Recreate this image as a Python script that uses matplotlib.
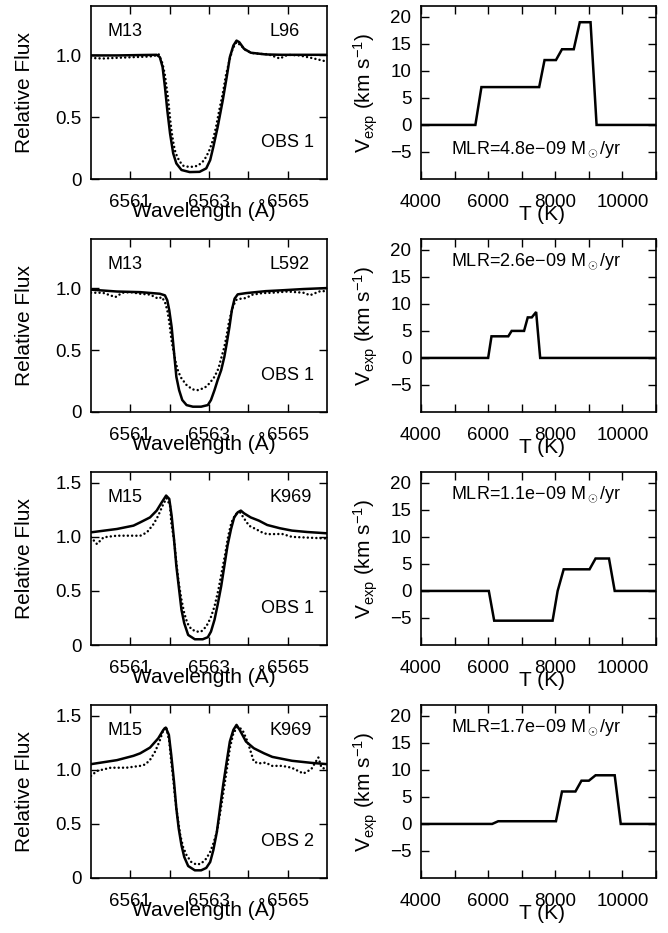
import matplotlib
matplotlib.use("Agg")
import matplotlib.pyplot as plt
from matplotlib.ticker import MultipleLocator, FixedLocator, FixedFormatter

plt.rcParams['font.family'] = ['Liberation Sans', 'DejaVu Sans']
plt.rcParams['mathtext.fontset'] = 'custom'
plt.rcParams['mathtext.rm'] = 'Liberation Sans'
plt.rcParams['mathtext.it'] = 'Liberation Sans:italic'
plt.rcParams['mathtext.bf'] = 'Liberation Sans:bold'
plt.rcParams['mathtext.sf'] = 'Liberation Sans'

# ---------------- spectra: model (solid) ----------------
mod1_wl = [6560.0, 6560.66, 6561.25, 6561.67, 6561.75, 6561.82, 6561.88, 6561.94, 6562.01, 6562.09,
           6562.17, 6562.30, 6562.51, 6562.76, 6562.93, 6563.03, 6563.11, 6563.22, 6563.35, 6563.45,
           6563.53, 6563.62, 6563.70, 6563.77, 6563.89, 6564.06, 6564.44, 6564.86, 6565.4, 6566.0]
mod1_fl = [1.0, 1.0, 1.003, 1.005, 0.986, 0.906, 0.744, 0.556, 0.368, 0.207,
           0.126, 0.073, 0.056, 0.058, 0.086, 0.153, 0.26, 0.42, 0.637, 0.825,
           0.986, 1.08, 1.12, 1.107, 1.054, 1.022, 1.008, 1.005, 1.005, 1.005]

mod2_wl = [6560.0, 6560.66, 6561.25, 6561.75, 6561.88, 6561.94, 6561.99, 6562.05, 6562.09, 6562.13,
           6562.17, 6562.24, 6562.32, 6562.43, 6562.59, 6562.80, 6562.97, 6563.05, 6563.14, 6563.22,
           6563.31, 6563.39, 6563.45, 6563.52, 6563.58, 6563.65, 6563.73, 6563.94, 6564.44, 6564.86,
           6565.4, 6566.0]
mod2_fl = [0.99, 0.975, 0.97, 0.957, 0.944, 0.903, 0.823, 0.688, 0.554, 0.419,
           0.285, 0.177, 0.097, 0.056, 0.043, 0.043, 0.056, 0.097, 0.177, 0.258,
           0.339, 0.446, 0.554, 0.688, 0.823, 0.917, 0.952, 0.962, 0.978, 0.985,
           0.995, 1.003]

mod3_wl = [6560.0, 6560.66, 6561.08, 6561.25, 6561.50, 6561.67, 6561.80, 6561.91, 6561.99, 6562.05,
           6562.11, 6562.17, 6562.24, 6562.30, 6562.37, 6562.47, 6562.64, 6562.84, 6562.97, 6563.05,
           6563.14, 6563.22, 6563.31, 6563.39, 6563.47, 6563.56, 6563.64, 6563.73, 6563.81, 6563.89,
           6564.06, 6564.27, 6564.48, 6564.80, 6565.11, 6565.5, 6566.0]
mod3_fl = [1.042, 1.073, 1.104, 1.134, 1.18, 1.243, 1.32, 1.382, 1.351, 1.196,
           0.979, 0.73, 0.513, 0.326, 0.202, 0.093, 0.053, 0.053, 0.072, 0.124,
           0.233, 0.373, 0.544, 0.73, 0.917, 1.072, 1.18, 1.227, 1.243, 1.218,
           1.18, 1.15, 1.11, 1.08, 1.058, 1.045, 1.033]

mod4_wl = [6560.0, 6560.66, 6561.08, 6561.25, 6561.50, 6561.71, 6561.84, 6561.90, 6561.98, 6562.04,
           6562.11, 6562.17, 6562.23, 6562.30, 6562.37, 6562.47, 6562.64, 6562.80, 6562.93, 6563.03,
           6563.11, 6563.20, 6563.28, 6563.36, 6563.45, 6563.53, 6563.62, 6563.70, 6563.78, 6563.94,
           6564.14, 6564.40, 6564.61, 6565.11, 6565.6, 6566.0]
mod4_fl = [1.053, 1.09, 1.13, 1.153, 1.206, 1.292, 1.37, 1.391, 1.324, 1.138,
           0.891, 0.643, 0.457, 0.303, 0.195, 0.111, 0.071, 0.071, 0.093, 0.148,
           0.257, 0.427, 0.643, 0.86, 1.076, 1.262, 1.37, 1.416, 1.37, 1.262,
           1.2, 1.153, 1.12, 1.084, 1.065, 1.053]

# ---------------- spectra: observed (dotted) ----------------
obs1_wl = [6560.0, 6560.3, 6560.6, 6561.0, 6561.4, 6561.6, 6561.72, 6561.82, 6561.88, 6561.92,
           6561.96, 6561.99, 6562.02, 6562.05, 6562.09, 6562.13, 6562.19, 6562.26, 6562.34, 6562.47,
           6562.59, 6562.72, 6562.84, 6562.93, 6563.01, 6563.10, 6563.18, 6563.26, 6563.35, 6563.43,
           6563.52, 6563.60, 6563.70, 6563.81, 6563.94, 6564.10, 6564.27, 6564.5, 6564.8, 6565.0,
           6565.3, 6565.6, 6565.8, 6566.0]
obs1_fl = [0.98, 0.975, 0.98, 0.985, 0.99, 0.995, 1.01, 0.933, 0.839, 0.745,
           0.651, 0.556, 0.462, 0.382, 0.301, 0.234, 0.18, 0.14, 0.108, 0.099,
           0.099, 0.108, 0.14, 0.18, 0.234, 0.315, 0.422, 0.556, 0.691, 0.839,
           0.96, 1.054, 1.108, 1.081, 1.04, 1.019, 1.013, 1.01, 0.975, 1.005,
           1.0, 0.98, 0.965, 0.95]

obs2_wl = [6560.0, 6560.3, 6560.62, 6560.8, 6561.0, 6561.25, 6561.50, 6561.71, 6561.80, 6561.88,
           6561.94, 6561.99, 6562.02, 6562.06, 6562.11, 6562.16, 6562.22, 6562.30, 6562.43, 6562.58,
           6562.72, 6562.89, 6563.01, 6563.14, 6563.24, 6563.32, 6563.39, 6563.45, 6563.50, 6563.56,
           6563.62, 6563.70, 6563.81, 6563.94, 6564.10, 6564.35, 6564.6, 6565.0, 6565.4, 6565.57,
           6565.8, 6566.0]
obs2_fl = [0.965, 0.965, 0.93, 0.965, 0.97, 0.957, 0.95, 0.917, 0.93, 0.89,
           0.823, 0.728, 0.648, 0.554, 0.473, 0.392, 0.325, 0.272, 0.218, 0.183,
           0.177, 0.196, 0.231, 0.285, 0.352, 0.446, 0.527, 0.621, 0.715, 0.796,
           0.863, 0.909, 0.917, 0.922, 0.949, 0.962, 0.965, 0.975, 0.965, 0.945,
           0.975, 0.98]

obs3_wl = [6560.0, 6560.15, 6560.32, 6560.66, 6561.08, 6561.25, 6561.42, 6561.59, 6561.71, 6561.82,
           6561.92, 6562.01, 6562.04, 6562.12, 6562.17, 6562.23, 6562.30, 6562.37, 6562.45, 6562.55,
           6562.68, 6562.80, 6562.93, 6563.04, 6563.14, 6563.24, 6563.32, 6563.41, 6563.49, 6563.57,
           6563.68, 6563.79, 6563.89, 6564.02, 6564.19, 6564.35, 6564.48, 6564.86, 6565.11, 6565.4,
           6565.7, 6566.0]
obs3_fl = [0.996, 0.934, 0.996, 1.011, 1.011, 1.01, 1.041, 1.118, 1.196, 1.289,
           1.358, 1.289, 1.134, 0.948, 0.761, 0.575, 0.419, 0.295, 0.202, 0.146,
           0.124, 0.124, 0.171, 0.249, 0.357, 0.513, 0.668, 0.839, 1.01, 1.134,
           1.211, 1.227, 1.171, 1.103, 1.072, 1.041, 1.025, 1.027, 1.0, 0.995,
           0.99, 0.985]

obs4_wl = [6560.0, 6560.15, 6560.5, 6560.9, 6561.25, 6561.38, 6561.50, 6561.63, 6561.74, 6561.84,
           6561.91, 6561.99, 6562.04, 6562.09, 6562.13, 6562.17, 6562.22, 6562.27, 6562.34, 6562.43,
           6562.55, 6562.68, 6562.80, 6562.93, 6563.03, 6563.11, 6563.20, 6563.26, 6563.33, 6563.40,
           6563.47, 6563.53, 6563.62, 6563.73, 6563.85, 6563.98, 6564.06, 6564.14, 6564.27, 6564.44,
           6564.6, 6564.86, 6565.1, 6565.4, 6565.6, 6565.78, 6565.86, 6566.0]
obs4_fl = [0.944, 0.99, 1.02, 1.02, 1.037, 1.05, 1.092, 1.169, 1.262, 1.37,
           1.40, 1.262, 1.076, 0.921, 0.767, 0.643, 0.519, 0.396, 0.288, 0.21,
           0.148, 0.124, 0.133, 0.179, 0.241, 0.318, 0.427, 0.55, 0.705, 0.875,
           1.045, 1.2, 1.339, 1.40, 1.37, 1.262, 1.169, 1.076, 1.06, 1.067,
           1.037, 1.037, 1.02, 0.966, 1.006, 1.115, 1.02, 1.006]

# ---------------- expansion velocity vs temperature ----------------
t1 = [4000, 5620, 5800, 7520, 7680, 8020, 8200, 8550, 8730, 9050, 9230, 11000]
v1 = [0, 0, 7, 7, 12, 12, 14, 14, 19, 19, 0, 0]
t2 = [4000, 6000, 6100, 6600, 6700, 7070, 7180, 7300, 7430, 7550, 11000]
v2 = [0, 0, 4, 4, 5, 5, 7.5, 7.5, 8.5, 0, 0]
t3 = [4000, 6020, 6180, 7920, 8070, 8250, 9020, 9200, 9600, 9770, 11000]
v3 = [0, 0, -5.5, -5.5, 0, 4, 4, 6, 6, 0, 0]
t4 = [4000, 6120, 6300, 8020, 8200, 8600, 8780, 9000, 9200, 9770, 9950, 11000]
v4 = [0, 0, 0.5, 0.5, 6, 6, 8, 8, 9, 9, 0, 0]

clusters = ['M13', 'M13', 'M15', 'M15']
stars = ['L96', 'L592', 'K969', 'K969']
obs_labels = ['OBS 1', 'OBS 1', 'OBS 1', 'OBS 2']
mlr_labels = ['MLR=4.8e\u221209 M$_\\odot$/yr', 'MLR=2.6e\u221209 M$_\\odot$/yr',
              'MLR=1.1e\u221209 M$_\\odot$/yr', 'MLR=1.7e\u221209 M$_\\odot$/yr']
flux_top = [1.4, 1.4, 1.6, 1.6]

mods = [(mod1_wl, mod1_fl), (mod2_wl, mod2_fl), (mod3_wl, mod3_fl), (mod4_wl, mod4_fl)]
obss = [(obs1_wl, obs1_fl), (obs2_wl, obs2_fl), (obs3_wl, obs3_fl), (obs4_wl, obs4_fl)]
vels = [(t1, v1), (t2, v2), (t3, v3), (t4, v4)]

fig = plt.figure(figsize=(6.68, 9.33), dpi=100)
W, H = 668.0, 933.0
row_tops = [6, 239, 472, 705]
row_h = 173

TICK_FS = 13.5
LAB_FS = 15
ANN_FS = 13

def style(ax):
    ax.tick_params(which='both', direction='in', top=True, right=True,
                   length=6, width=1.0, labelsize=TICK_FS)
    ax.tick_params(axis='x', which='both', pad=11)
    ax.tick_params(axis='y', which='both', pad=7)
    for s in ax.spines.values():
        s.set_linewidth(1.2)

for i in range(4):
    bottom = 1 - (row_tops[i] + row_h) / H
    h = row_h / H
    axl = fig.add_axes([91 / W, bottom, 236 / W, h])
    axr = fig.add_axes([421 / W, bottom, 235 / W, h])

    # spectra
    axl.plot(mods[i][0], mods[i][1], color='black', lw=1.8, solid_joinstyle='round')
    axl.plot(obss[i][0], obss[i][1], color='black', lw=1.8, linestyle=(0, (0.01, 1.7)),
             dash_capstyle='round')
    axl.set_xlim(6560, 6566)
    axl.set_ylim(0, flux_top[i])
    axl.xaxis.set_major_locator(FixedLocator([6561, 6563, 6565]))
    axl.xaxis.set_minor_locator(FixedLocator([6562, 6564]))
    if flux_top[i] > 1.5:
        yt = [0, 0.5, 1.0, 1.5]
        ytl = ['0', '0.5', '1.0', '1.5']
    else:
        yt = [0, 0.5, 1.0]
        ytl = ['0', '0.5', '1.0']
    axl.yaxis.set_major_locator(FixedLocator(yt))
    axl.yaxis.set_major_formatter(FixedFormatter(ytl))
    style(axl)
    axl.set_ylabel('Relative Flux', fontsize=LAB_FS, va='center')
    axl.yaxis.set_label_coords(-0.28, 0.5)
    axl.set_xlabel('Wavelength (\u00c5)', fontsize=LAB_FS, va='center')
    axl.xaxis.set_label_coords(0.48, -0.18)
    axl.text(0.069, 0.855, clusters[i], transform=axl.transAxes, fontsize=ANN_FS,
             ha='left', va='center')
    axl.text(0.758, 0.855, stars[i], transform=axl.transAxes, fontsize=ANN_FS,
             ha='left', va='center')
    axl.text(0.719, 0.21, obs_labels[i], transform=axl.transAxes, fontsize=ANN_FS,
             ha='left', va='center')

    # velocity
    axr.plot(vels[i][0], vels[i][1], color='black', lw=1.8, solid_joinstyle='miter')
    axr.set_xlim(4000, 11000)
    axr.set_ylim(-10, 22)
    axr.xaxis.set_major_locator(MultipleLocator(2000))
    axr.xaxis.set_minor_locator(MultipleLocator(1000))
    axr.yaxis.set_major_locator(FixedLocator([-5, 0, 5, 10, 15, 20]))
    style(axr)
    axr.set_ylabel('V$_{\\rm exp}$ (km s$^{-1}$)', fontsize=LAB_FS, va='center')
    axr.yaxis.set_label_coords(-0.235, 0.5)
    axr.set_xlabel('T (K)', fontsize=LAB_FS, va='center')
    axr.xaxis.set_label_coords(0.516, -0.205)
    ypos = 0.167 if i == 0 else 0.868
    axr.text(0.128, ypos, mlr_labels[i], transform=axr.transAxes, fontsize=ANN_FS,
             ha='left', va='center')

fig.savefig('out.png', dpi=100)
